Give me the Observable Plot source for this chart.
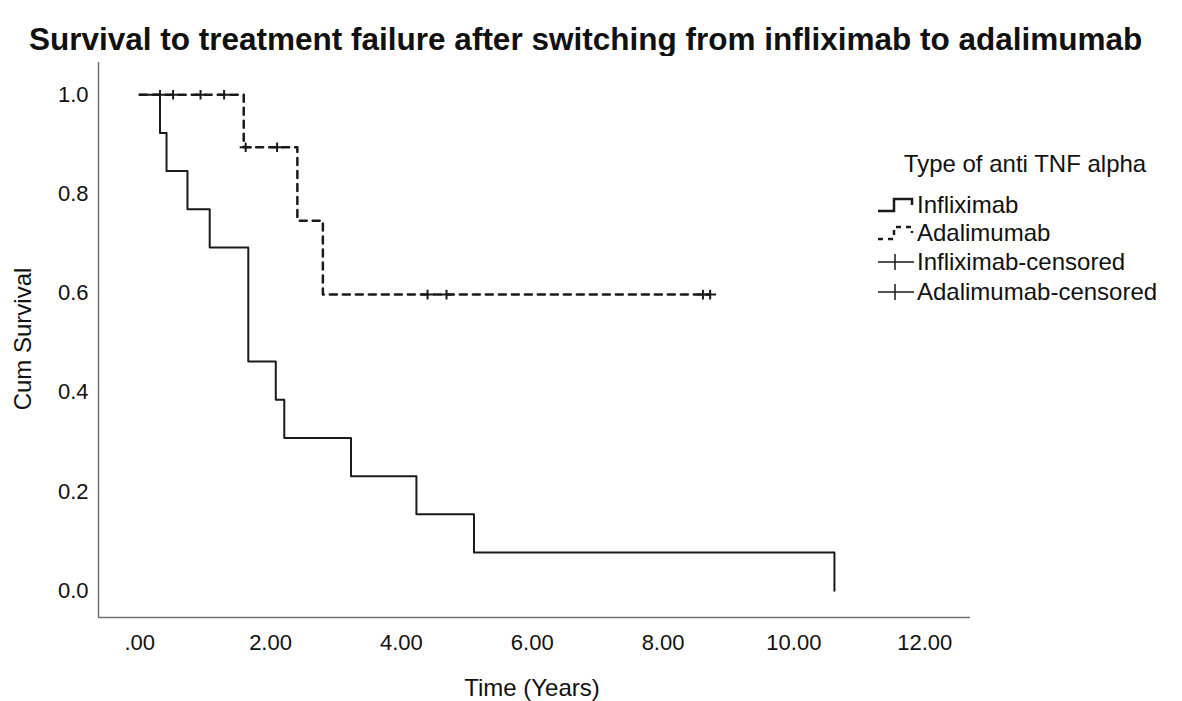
<!DOCTYPE html>
<html><head><meta charset="utf-8">
<script src="https://cdn.jsdelivr.net/npm/d3@7"></script>
<script src="https://cdn.jsdelivr.net/npm/@observablehq/plot@0.6"></script>
<style>
body{margin:0;background:#fff;font-family:Arial,"Liberation Sans",sans-serif;color:#111;}
#wrap{position:relative;width:1182px;height:701px;overflow:hidden;}
#title{position:absolute;left:29px;top:21px;font-size:31.5px;font-weight:bold;line-height:36px;white-space:nowrap;color:#111;}
#chart{position:absolute;left:0;top:56px;}
.lab{position:absolute;font-size:24px;white-space:nowrap;line-height:28px;}
#ylab{left:23px;top:339px;transform:translate(-50%,-50%) rotate(-90deg);}
#xlab{left:532px;top:688px;transform:translate(-50%,-50%);}
#legend{position:absolute;left:0;top:0;}
.ltitle{position:absolute;left:1025px;top:164px;transform:translate(-50%,-50%);font-size:24px;white-space:nowrap;line-height:28px;}
.litem{position:absolute;left:877px;height:28px;transform:translateY(-50%);display:flex;align-items:center;font-size:24px;white-space:nowrap;}
.litem svg{width:38px;height:24px;margin-right:2px;}
</style></head><body>
<div id="wrap">
  <div id="title">Survival to treatment failure after switching from infliximab to adalimumab</div>
  <div id="chart"></div>
  <div class="lab" id="ylab">Cum Survival</div>
  <div class="lab" id="xlab">Time (Years)</div>
  <div id="legend"></div>
</div>
<script>
// Infliximab Kaplan-Meier steps (time in years, cumulative survival after step)
const inflixTime = [0, 0.31, 0.41, 0.73, 1.07, 1.66, 2.08, 2.21, 3.23, 4.23, 5.11, 10.62];
const inflixSurv = [1.0, 0.923, 0.846, 0.769, 0.692, 0.462, 0.385, 0.308, 0.231, 0.154, 0.077, 0.0];
// Adalimumab Kaplan-Meier steps
const adaTime = [0, 1.59, 2.41, 2.80, 8.72];
const adaSurv = [1.0, 0.894, 0.746, 0.597, 0.597];
// Adalimumab censored observations
const adaCensTime = [0.31, 0.51, 0.93, 1.29, 1.62, 2.10, 4.40, 4.69, 8.61, 8.72];
const adaCensSurv = [1.0, 1.0, 1.0, 1.0, 0.894, 0.894, 0.597, 0.597, 0.597, 0.597];

const xTicks = [0, 2, 4, 6, 8, 10, 12];
const xTickLabels = [".00", "2.00", "4.00", "6.00", "8.00", "10.00", "12.00"];
const yTicks = [0, 0.2, 0.4, 0.6, 0.8, 1.0];
const yTickLabels = ["0.0", "0.2", "0.4", "0.6", "0.8", "1.0"];
const xDomain = [-0.63, 12.7];
const yDomain = [-0.054, 1.065];

const legendTitle = "Type of anti TNF alpha";
const legendLabels = ["Infliximab", "Adalimumab", "Infliximab-censored", "Adalimumab-censored"];

const inflix = inflixTime.map((t, i) => ({t, s: inflixSurv[i]}));
const ada = adaTime.map((t, i) => ({t, s: adaSurv[i]}));
const adaCens = adaCensTime.map((t, i) => ({t, s: adaCensSurv[i]}));

const plus = {
  draw(ctx, size) {
    const r = Math.sqrt(size / Math.PI);
    ctx.moveTo(-r, 0); ctx.lineTo(r, 0);
    ctx.moveTo(0, -r * 0.8); ctx.lineTo(0, r * 0.8);
  }
};

const ink = "#1a1a1a";
const axisColor = "#707070";

const chart = Plot.plot({
  width: 1182,
  height: 645,
  marginLeft: 98,
  marginRight: 212,
  marginTop: 6,
  marginBottom: 84,
  style: {fontSize: "22px", fontFamily: "Arial, 'Liberation Sans', sans-serif", color: "#111", background: "#fff"},
  x: {domain: xDomain},
  y: {domain: yDomain},
  marks: [
    Plot.axisX(xTicks, {tickSize: 0, tickPadding: 17, tickFormat: (d) => xTickLabels[xTicks.indexOf(d)], label: null}),
    Plot.axisY(yTicks, {tickSize: 0, tickPadding: 10, tickFormat: (d) => yTickLabels[yTicks.indexOf(d)], label: null}),
    Plot.ruleX([xDomain[0]], {y1: yDomain[0], y2: yDomain[1], stroke: axisColor, strokeWidth: 1.5}),
    Plot.ruleY([yDomain[0]], {x1: xDomain[0], x2: xDomain[1], stroke: axisColor, strokeWidth: 1.5}),
    Plot.line(inflix, {x: "t", y: "s", curve: "step-after", stroke: ink, strokeWidth: 2}),
    Plot.line(ada, {x: "t", y: "s", curve: "step-after", stroke: ink, strokeWidth: 2.5, strokeDasharray: "7,6"}),
    Plot.dot(adaCens, {x: "t", y: "s", symbol: plus, r: 6, stroke: ink, strokeWidth: 2, fill: "none"})
  ]
});
document.getElementById("chart").appendChild(chart);

// Legend
const leg = document.getElementById("legend");
const lt = document.createElement("div");
lt.className = "ltitle"; lt.textContent = legendTitle; leg.appendChild(lt);
const legendY = [205, 233, 262, 292];
const sym = [
  `<svg viewBox="0 0 38 24"><path d="M1,18 H17 V6 H35 V12" fill="none" stroke="${ink}" stroke-width="2.5"/></svg>`,
  `<svg viewBox="0 0 38 24"><path d="M1,18 H17 V6 H35 V12" fill="none" stroke="${ink}" stroke-width="2.5" stroke-dasharray="5,5"/></svg>`,
  `<svg viewBox="0 0 38 24"><path d="M1,12 H37 M18,4 V20" fill="none" stroke="${ink}" stroke-width="1.5"/></svg>`,
  `<svg viewBox="0 0 38 24"><path d="M1,12 H37 M18,4 V20" fill="none" stroke="${ink}" stroke-width="1.5"/></svg>`
];
legendLabels.forEach((name, i) => {
  const d = document.createElement("div");
  d.className = "litem";
  d.style.top = legendY[i] + "px";
  d.innerHTML = sym[i] + `<span>${name}</span>`;
  leg.appendChild(d);
});
</script>
</body></html>
